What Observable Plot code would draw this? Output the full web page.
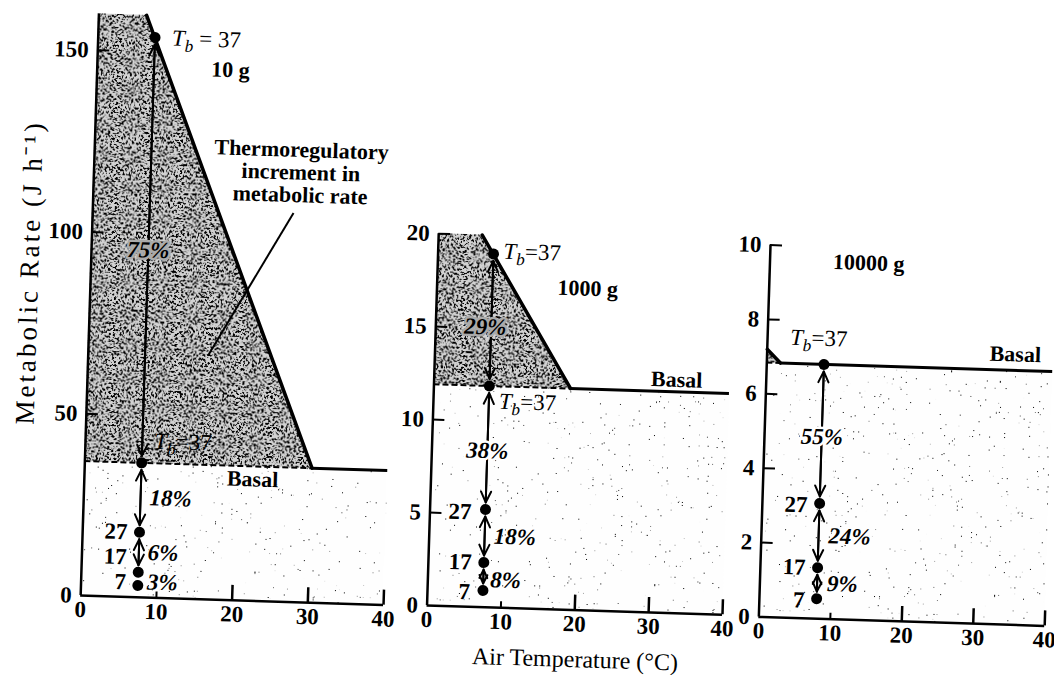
<!DOCTYPE html>
<html>
<head>
<meta charset="utf-8">
<script src="https://cdn.jsdelivr.net/npm/d3@7"></script>
<script src="https://cdn.jsdelivr.net/npm/@observablehq/plot@0.6"></script>
<style>
  html, body { margin: 0; padding: 0; background: #fff; overflow: hidden; }
  #figure {
    position: relative; width: 1054px; height: 675px;
    transform: rotate(1.8deg); transform-origin: 527px 337px;
    font-family: "Liberation Serif", "Times New Roman", serif; color: #000;
  }
  .panel { position: absolute; top: 0; }
  .ytitle {
    position: absolute; left: 26px; top: 288px; white-space: nowrap;
    transform: translate(-50%, -50%) rotate(-90deg);
    font-size: 27px; letter-spacing: 3px;
  }
  .xtitle {
    position: absolute; left: 585px; top: 658px; white-space: nowrap;
    transform: translate(-50%, -50%); font-size: 24px;
  }
</style>
</head>
<body>
<svg width="0" height="0" style="position:absolute">
  <defs>
    <!-- coarse grain for the thermoregulatory increment -->
    <filter id="grain-dense" x="0" y="0" width="100%" height="100%" color-interpolation-filters="sRGB">
      <feTurbulence type="fractalNoise" baseFrequency="0.45" numOctaves="3" seed="7" result="noise"/>
      <feColorMatrix in="noise" type="matrix"
        values="0 0 0 0 0  0 0 0 0 0  0 0 0 0 0  -10 0 0 0 4.9" result="specks"/>
      <feComposite in="specks" in2="SourceAlpha" operator="in" result="clipped"/>
      <feMerge><feMergeNode in="SourceGraphic"/><feMergeNode in="clipped"/></feMerge>
    </filter>
    <!-- sparse stipple for the basal region -->
    <filter id="grain-light" x="0" y="0" width="100%" height="100%" color-interpolation-filters="sRGB">
      <feTurbulence type="fractalNoise" baseFrequency="0.8" numOctaves="3" seed="3" result="noise"/>
      <feColorMatrix in="noise" type="matrix"
        values="0 0 0 0 0  0 0 0 0 0  0 0 0 0 0  -40 0 0 0 8.6" result="specks"/>
      <feComposite in="specks" in2="SourceAlpha" operator="in" result="clipped"/>
      <feMerge><feMergeNode in="SourceGraphic"/><feMergeNode in="clipped"/></feMerge>
    </filter>
  </defs>
</svg>
<div id="figure">
  <div class="ytitle">Metabolic Rate (J h⁻¹)</div>
  <div class="xtitle">Air Temperature (°C)</div>
</div>
<script>
// Air temperature axis, shared by the three body sizes
const airTicks = [0, 10, 20, 30, 40];

// 10 g animal
const ticks10 = [0, 50, 100, 150];
const ta10 = 7.5;                       // air temperature of the comparison (°C)
const tb10 = [37, 37, 27, 17, 7];       // body temperature at each point
const rate10 = [154, 37, 17.9, 6.9, 3.3];
const pct10 = [75, 18, 6, 3];           // saving between successive points
const basal10 = 37;
const thermoX10 = [6.3, 30];            // thermoregulatory line: top of axis → meets basal
const thermoY10 = [160, 37];

// 1000 g animal
const ticks1000 = [0, 5, 10, 15, 20];
const ta1000 = 7.5;
const tb1000 = [37, 37, 27, 17, 7];
const rate1000 = [19.0, 11.9, 5.26, 2.4, 0.9];
const pct1000 = [29, 38, 18, 8];
const basal1000 = 11.9;
const thermoX1000 = [5.9, 18.5];
const thermoY1000 = [20, 11.9];

// 10000 g animal
const ticks10000 = [0, 2, 4, 6, 8, 10];
const ta10000 = 8;
const tb10000 = [37, 27, 17, 7];
const rate10000 = [6.84, 3.1, 1.37, 0.54];
const pct10000 = [55, 24, 9];
const basal10000 = 6.84;
const thermoX10000 = [0, 1.9];
const thermoY10000 = [7.2, 6.84];

const DENSE = "#d2d2d2";
const LIGHT = "#fefefe";
const HALO = "#aaaaaa";
const FONT = '"Liberation Serif", "Times New Roman", serif';

function points(ta, tb, rates) {
  return tb.map((t, i) => ({t, x: ta, y: rates[i]}));
}
function pairs(ta, rates, pct) {
  return pct.map((p, i) => ({p: `${p}%`, x: ta, ya: rates[i], yb: rates[i + 1], ym: (rates[i] + rates[i + 1]) / 2}));
}
function doubleArrow(data) {
  const o = {stroke: "black", strokeWidth: 2, headLength: 9, headAngle: 50, insetStart: 7, insetEnd: 7};
  return [
    Plot.arrow(data, {x1: "x", y1: "ya", x2: "x", y2: "yb", ...o}),
    Plot.arrow(data, {x1: "x", y1: "yb", x2: "x", y2: "ya", ...o})
  ];
}

// Shaded regions, basal and thermoregulatory lines, and the hand-drawn style axes
function frameMarks({yMax, yTicks, basal, thermoX, thermoY, frameW, frameH}) {
  const shade = [
    {x: 0, y: thermoY[0]},
    {x: thermoX[0], y: thermoY[0]},
    {x: thermoX[1], y: thermoY[1]}
  ];
  return [
    Plot.areaY([{x: 0}, {x: 40}], {x: "x", y1: 0, y2: basal, fill: LIGHT}),
    Plot.areaY(shade, {x: "x", y1: basal, y2: "y", fill: DENSE}),
    Plot.ruleY([basal], {x1: 0, x2: thermoX[1], stroke: "black", strokeWidth: 2, strokeDasharray: "6,3"}),
    Plot.ruleY([basal], {x1: thermoX[1], x2: 40, stroke: "black", strokeWidth: 3}),
    Plot.line(shade.slice(1), {x: "x", y: "y", stroke: "black", strokeWidth: 3.5}),
    Plot.ruleY([0], {x1: 0, x2: 40, stroke: "black", strokeWidth: 2.5}),
    Plot.ruleX([0], {y1: 0, y2: yMax, stroke: "black", strokeWidth: 2.5}),
    Plot.tickX([10], {stroke: "black", strokeWidth: 2, insetTop: frameH - 6}),
    Plot.tickX([20, 30, 40], {stroke: "black", strokeWidth: 2.5, insetTop: frameH - 15}),
    Plot.tickY(yTicks.slice(1), {stroke: "black", strokeWidth: 2, insetRight: frameW - 12}),
    Plot.axisX({ticks: airTicks, tickSize: 0, tickPadding: 5, label: null, fontWeight: "bold"}),
    Plot.axisY({ticks: yTicks, tickSize: 0, tickPadding: 9, label: null, fontWeight: "bold"})
  ];
}

function panel({left, width, height, marginLeft, marginRight, marginTop, marginBottom, yMax, yTicks, basal, thermoX, thermoY, marks}) {
  const frameW = width - marginLeft - marginRight;
  const frameH = height - marginTop - marginBottom;
  const svg = Plot.plot({
    width, height, marginLeft, marginRight, marginTop, marginBottom,
    x: {domain: [0, 40], label: null},
    y: {domain: [0, yMax], label: null},
    style: {background: "transparent", overflow: "visible", fontFamily: FONT, fontSize: "23px", color: "black"},
    marks: [...frameMarks({yMax, yTicks, basal, thermoX, thermoY, frameW, frameH}), ...marks]
  });
  svg.querySelectorAll(`g[fill="${DENSE}"]`).forEach(g => g.setAttribute("filter", "url(#grain-dense)"));
  svg.querySelectorAll(`g[fill="${LIGHT}"]`).forEach(g => g.setAttribute("filter", "url(#grain-light)"));
  const div = document.createElement("div");
  div.className = "panel";
  div.style.left = left + "px";
  div.style.width = width + "px";
  div.appendChild(svg);
  document.getElementById("figure").appendChild(div);
  return svg;
}

const bold = {fontWeight: "bold"};
const pctStyle = {fontStyle: "italic", fontWeight: "bold", fill: "black"};

// ---- 10 g
{
  const pts = points(ta10, tb10, rate10);
  const prs = pairs(ta10, rate10, pct10);
  panel({
    left: 0, width: 420, height: 660, marginLeft: 88.5, marginRight: 28.5, marginTop: 27, marginBottom: 51,
    yMax: 160, yTicks: ticks10, basal: basal10, thermoX: thermoX10, thermoY: thermoY10,
    marks: [
      ...doubleArrow(prs.slice(0, 3)),
      Plot.dot(pts, {x: "x", y: "y", r: 5.5, fill: "black"}),
      Plot.text([prs[0]], {x: "x", y: "ym", text: "p", ...pctStyle, stroke: HALO, strokeWidth: 5}),
      Plot.text(prs.slice(1, 3), {x: "x", y: "ym", text: "p", dx: 9, textAnchor: "start", ...pctStyle}),
      Plot.text([prs[3]], {x: "x", y: "ym", text: "p", dx: 9, dy: 3, textAnchor: "start", ...pctStyle}),
      Plot.text([pts[0]], {x: "x", y: "y", text: d => `Tb = ${d.t}`, dx: 17, textAnchor: "start"}),
      Plot.text([pts[1]], {x: "x", y: "y", text: d => `Tb=${d.t}`, dx: 12, dy: -22, textAnchor: "start"}),
      Plot.text([pts[2]], {x: "x", y: "y", text: "t", dx: -12, textAnchor: "end", ...bold}),
      Plot.text([pts[3]], {x: "x", y: "y", text: "t", dx: -12, dy: -15, textAnchor: "end", ...bold}),
      Plot.text([pts[4]], {x: "x", y: "y", text: "t", dx: -12, dy: -3, textAnchor: "end", ...bold}),
      Plot.text(["10 g"], {x: 17.6, y: 145.7, text: d => d, fontSize: 22, ...bold}),
      Plot.text(["Basal"], {x: 22.2, y: basal10, text: d => d, dy: 13, fontSize: 22, ...bold}),
      Plot.text(["Thermoregulatory\nincrement in\nmetabolic rate"], {x: 27.3, y: 118.2, text: d => d, fontSize: 22, lineHeight: 1.03, ...bold}),
      Plot.link([{x1: 26.5, y1: 107, x2: 15.8, y2: 67}], {x1: "x1", y1: "y1", x2: "x2", y2: "y2", stroke: "black", strokeWidth: 2})
    ]
  });
}

// ---- 1000 g
{
  const pts = points(ta1000, tb1000, rate1000);
  const prs = pairs(ta1000, rate1000, pct1000);
  panel({
    left: 400, width: 360, height: 660, marginLeft: 35, marginRight: 29.4, marginTop: 236, marginBottom: 52,
    yMax: 20, yTicks: ticks1000, basal: basal1000, thermoX: thermoX1000, thermoY: thermoY1000,
    marks: [
      ...doubleArrow(prs),
      Plot.dot(pts, {x: "x", y: "y", r: 5.5, fill: "black"}),
      Plot.text([prs[0]], {x: "x", y: "ym", text: "p", dx: -6, dy: 7, ...pctStyle, stroke: HALO, strokeWidth: 5}),
      Plot.text([prs[1]], {x: "x", y: "ym", text: "p", dy: 3, ...pctStyle, stroke: "white", strokeWidth: 5}),
      Plot.text([prs[2]], {x: "x", y: "ym", text: "p", dx: 9, textAnchor: "start", ...pctStyle}),
      Plot.text([prs[3]], {x: "x", y: "ym", text: "p", dx: 7, dy: 3, textAnchor: "start", ...pctStyle}),
      Plot.text([pts[0]], {x: "x", y: "y", text: d => `Tb=${d.t}`, dx: 10, dy: -3, textAnchor: "start"}),
      Plot.text([pts[1]], {x: "x", y: "y", text: d => `Tb=${d.t}`, dx: 10, dy: 15, textAnchor: "start"}),
      Plot.text([pts[2]], {x: "x", y: "y", text: "t", dx: -14, dy: 3, textAnchor: "end", ...bold}),
      Plot.text([pts[3]], {x: "x", y: "y", text: "t", dx: -12, textAnchor: "end", ...bold}),
      Plot.text([pts[4]], {x: "x", y: "y", text: "t", dx: -13, dy: 2, textAnchor: "end", ...bold}),
      Plot.text(["1000 g"], {x: 20.4, y: 17.3, text: d => d, fontSize: 22, ...bold}),
      Plot.text(["Basal"], {x: 32.8, y: basal1000, text: d => d, dy: -12, fontSize: 22, ...bold})
    ]
  });
}

// ---- 10000 g
{
  const pts = points(ta10000, tb10000, rate10000);
  const prs = pairs(ta10000, rate10000, pct10000);
  panel({
    left: 740, width: 314, height: 660, marginLeft: 27, marginRight: 1, marginTop: 237, marginBottom: 51,
    yMax: 10, yTicks: ticks10000, basal: basal10000, thermoX: thermoX10000, thermoY: thermoY10000,
    marks: [
      ...doubleArrow(prs),
      Plot.dot(pts, {x: "x", y: "y", r: 5.5, fill: "black"}),
      Plot.text([prs[0]], {x: "x", y: "ym", text: "p", dy: 3, ...pctStyle, stroke: "white", strokeWidth: 5}),
      Plot.text(prs.slice(1), {x: "x", y: "ym", text: "p", dx: 10, textAnchor: "start", ...pctStyle}),
      Plot.text([pts[0]], {x: "x", y: "y", text: d => `Tb=${d.t}`, dx: -6, dy: -26}),
      Plot.text([pts[1]], {x: "x", y: "y", text: "t", dx: -12, dy: 2, textAnchor: "end", ...bold}),
      Plot.text([pts[2]], {x: "x", y: "y", text: "t", dx: -12, textAnchor: "end", ...bold}),
      Plot.text([pts[3]], {x: "x", y: "y", text: "t", dx: -12, dy: 2, textAnchor: "end", ...bold}),
      Plot.text(["10000 g"], {x: 13.8, y: 9.6, text: d => d, fontSize: 22, ...bold}),
      Plot.text(["Basal"], {x: 34.7, y: basal10000, text: d => d, dy: -16, fontSize: 22, ...bold})
    ]
  });
}

// Body temperature labels: italic T with subscript b
document.querySelectorAll("#figure text").forEach(t => {
  if (!t.textContent.startsWith("Tb")) return;
  const rest = t.textContent.slice(2);
  const ns = "http://www.w3.org/2000/svg";
  t.textContent = "";
  const T = document.createElementNS(ns, "tspan");
  T.setAttribute("font-style", "italic");
  T.textContent = "T";
  const b = document.createElementNS(ns, "tspan");
  b.setAttribute("font-style", "italic");
  b.setAttribute("font-size", "0.75em");
  b.setAttribute("dy", "0.35em");
  b.textContent = "b";
  const r = document.createElementNS(ns, "tspan");
  r.setAttribute("dy", "-0.26em");
  r.textContent = rest;
  t.append(T, b, r);
});
</script>
</body>
</html>
